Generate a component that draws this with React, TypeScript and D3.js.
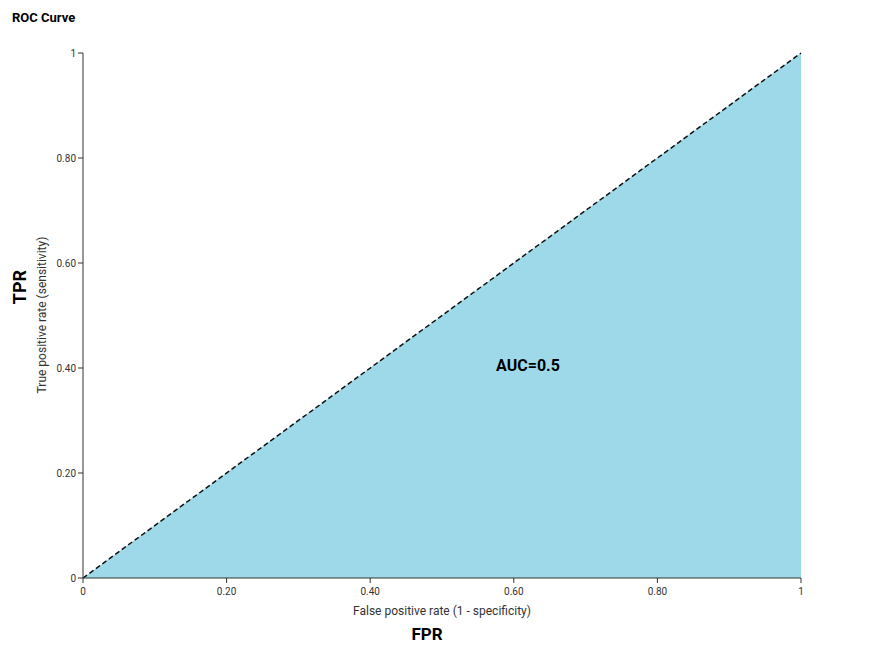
import React from 'react';
import * as d3 from 'd3';

const fpr = [0, 1];
const tpr = [0, 1];
const tickValues = [0, 0.2, 0.4, 0.6, 0.8, 1];
const tickLabels = ['0', '0.20', '0.40', '0.60', '0.80', '1'];
const aucLabel = 'AUC=0.5';

const width = 890;
const height = 653;
const margin = { top: 53, right: 89, bottom: 75, left: 83 };

const App: React.FC = () => {
  const x = d3.scaleLinear().domain([0, 1]).range([margin.left, width - margin.right]);
  const y = d3.scaleLinear().domain([0, 1]).range([height - margin.bottom, margin.top]);
  const pts = fpr.map((f, i) => ({ f, t: tpr[i] }));

  const area = d3.area<{ f: number; t: number }>()
    .x(d => x(d.f))
    .y0(y(0))
    .y1(d => y(d.t));
  // shade under the curve up to the right edge
  const fillPts = [...pts, { f: 1, t: 0 }];
  const fillPath = d3.line<{ f: number; t: number }>().x(d => x(d.f)).y(d => y(d.t))(fillPts) + 'Z';
  const line = d3.line<{ f: number; t: number }>().x(d => x(d.f)).y(d => y(d.t));

  const font = 'Roboto, sans-serif';

  return (
    <div style={{ position: 'fixed', left: 0, top: 0 }}>
      <svg width={width} height={height} fontFamily={font}>
        <rect width={width} height={height} fill="#fff" />
        <text x={12} y={22} fontSize={13} fontWeight="bold">ROC Curve</text>
        <path d={fillPath} fill="#9dd9e8" />
        <path d={area(pts) || ''} fill="#9dd9e8" />
        <path d={line(pts) || ''} fill="none" stroke="#111" strokeWidth={1.5} strokeDasharray="5,3" />
        <line x1={x(0)} x2={x(0)} y1={y(0)} y2={y(1)} stroke="#333" />
        <line x1={x(0)} x2={x(1)} y1={y(0)} y2={y(0)} stroke="#333" />
        {tickValues.map((v, i) => (
          <g key={'y' + i}>
            <line x1={x(0) - 5} x2={x(0)} y1={y(v)} y2={y(v)} stroke="#333" />
            <text x={x(0) - 7} y={y(v)} dy="0.35em" textAnchor="end" fontSize={10} fill="#333">{tickLabels[i]}</text>
          </g>
        ))}
        {tickValues.map((v, i) => (
          <g key={'x' + i}>
            <line x1={x(v)} x2={x(v)} y1={y(0)} y2={y(0) + 5} stroke="#333" />
            <text x={x(v)} y={y(0) + 17} textAnchor="middle" fontSize={10} fill="#333">{tickLabels[i]}</text>
          </g>
        ))}
        <text x={442} y={615} textAnchor="middle" fontSize={12} fill="#333">False positive rate (1 - specificity)</text>
        <text x={427} y={640} textAnchor="middle" fontSize={17} fontWeight="bold">FPR</text>
        <text transform="translate(46,315) rotate(-90)" textAnchor="middle" fontSize={12} fill="#333">True positive rate (sensitivity)</text>
        <text transform="translate(26,287) rotate(-90)" textAnchor="middle" fontSize={18} fontWeight="bold">TPR</text>
        <text x={528} y={371} textAnchor="middle" fontSize={16} fontWeight="bold">{aucLabel}</text>
      </svg>
    </div>
  );
};

export default App;
